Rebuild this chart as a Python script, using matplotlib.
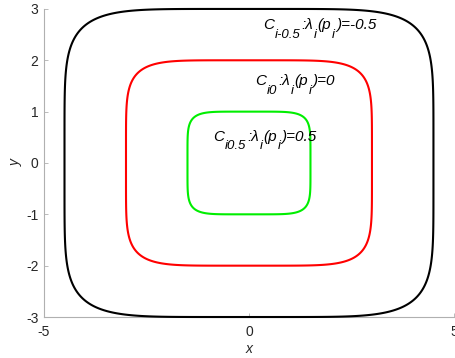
import numpy as np
import matplotlib
matplotlib.use("Agg")
import matplotlib.pyplot as plt
from matplotlib.patches import Polygon

plt.rcParams['font.family'] = ['Liberation Sans', 'DejaVu Sans']
plt.rcParams['axes.unicode_minus'] = False

# Level curves: half-widths, half-heights, colours
half_width = [4.5, 3.0, 1.5]
half_height = [3.0, 2.0, 1.0]
exponent = 6
colors = ['black', '#ff0000', '#00ee00']

# Curve labels as (piece, is_subscript) runs
labels = [
    [('C', False), ('i-0.5', True), (':λ', False), ('i', True),
     ('(p', False), ('i', True), (')=-0.5', False)],
    [('C', False), ('i0', True), (':λ', False), ('i', True),
     ('(p', False), ('i', True), (')=0', False)],
    [('C', False), ('i0.5', True), (':λ', False), ('i', True),
     ('(p', False), ('i', True), (')=0.5', False)],
]
label_x = [0.34, 0.15, -0.88]
label_y = [2.60, 1.51, 0.43]

x_ticks = [-5, 0, 5]
y_ticks = [-3, -2, -1, 0, 1, 2, 3]

MAIN_SIZE = 11
SUB_SIZE = 9.5
SUB_DROP = -6.0  # points below the baseline
SUB_GAP = 0.6    # points of extra space around subscripts

fig = plt.figure(figsize=(4.56, 3.58), dpi=100)
ax = fig.add_axes([0.0965, 0.1145, 0.899, 0.8605])

t = np.linspace(0, 2 * np.pi, 4000, endpoint=False)
c, s = np.cos(t), np.sin(t)
for a, b, col in zip(half_width, half_height, colors):
    xs = a * np.sign(c) * np.abs(c) ** (2 / exponent)
    ys = b * np.sign(s) * np.abs(s) ** (2 / exponent)
    ax.add_patch(Polygon(np.column_stack([xs, ys]), closed=True, fill=False,
                         edgecolor=col, lw=1.5, clip_on=False, zorder=3))


def draw_label(x, y, runs):
    first, _ = runs[0]
    prev = ax.text(x, y, first, fontsize=MAIN_SIZE, fontstyle='italic',
                   ha='left', va='baseline', color='black')
    prev_sub = False
    for piece, is_sub in runs[1:]:
        gap = SUB_GAP if (is_sub or prev_sub) else 0
        prev = ax.annotate(piece, xy=(1, y), xycoords=(prev, 'data'),
                           xytext=(gap, SUB_DROP if is_sub else 0),
                           textcoords='offset points',
                           fontsize=SUB_SIZE if is_sub else MAIN_SIZE,
                           fontstyle='italic', ha='left', va='baseline',
                           color='black')
        prev_sub = is_sub


for lx, ly, runs in zip(label_x, label_y, labels):
    draw_label(lx, ly, runs)

ax.set_xlim(-5, 5)
ax.set_ylim(-3, 3)
ax.set_xticks(x_ticks)
ax.set_yticks(y_ticks)
for side in ['top', 'right']:
    ax.spines[side].set_visible(False)
for side in ['left', 'bottom']:
    ax.spines[side].set_color('#b0b0b0')
    ax.spines[side].set_linewidth(0.8)
ax.tick_params(direction='in', length=3, width=0.6, color='#b0b0b0',
               labelsize=10, labelcolor='#262626')
ax.tick_params(axis='x', pad=6)
ax.tick_params(axis='y', pad=4)
ax.set_xlabel('x', fontstyle='italic', fontsize=10, color='#262626', labelpad=2)
ax.set_ylabel('y', fontstyle='italic', fontsize=10, color='#262626', labelpad=2)

fig.savefig('out.png', dpi=100)
